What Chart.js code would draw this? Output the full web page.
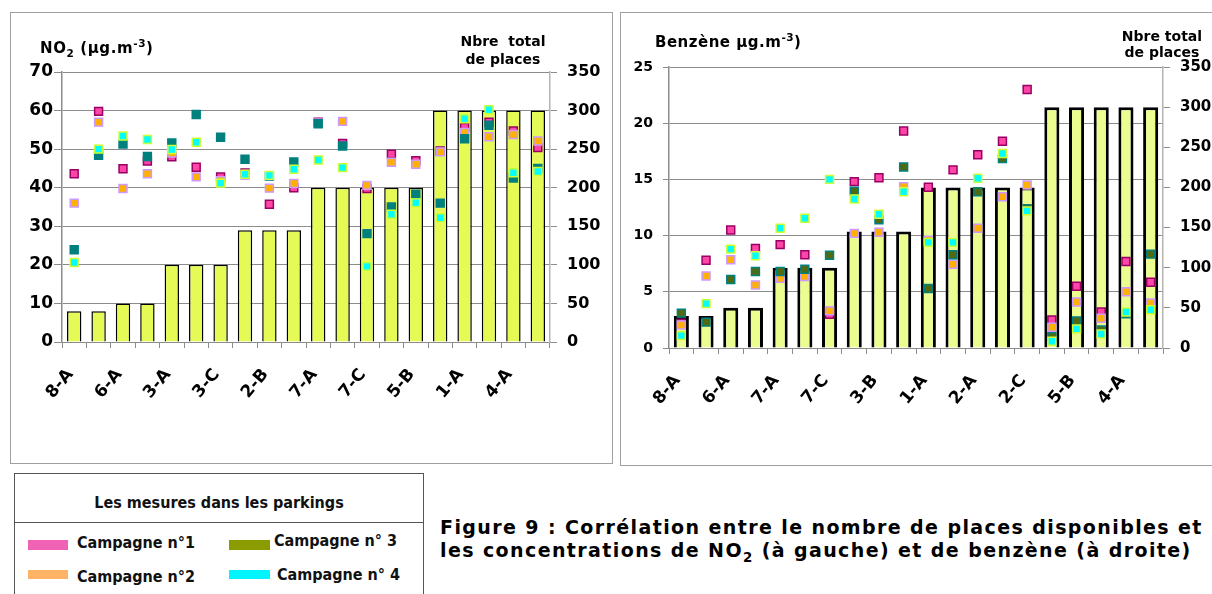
<!DOCTYPE html>
<html>
<head>
<meta charset="utf-8">
<script src="https://cdn.jsdelivr.net/npm/chart.js@4.4.1/dist/chart.umd.min.js"></script>
<style>
  html, body { margin: 0; padding: 0; background: #fff; }
  #page { position: relative; width: 1212px; height: 594px; overflow: hidden; font-family: 'DejaVu Sans', sans-serif; }
  .panel { position: absolute; border: 1px solid #a0a0a0; }
  canvas { position: absolute; }
  .lbl { position: absolute; font-weight: bold; color: #000; white-space: nowrap; line-height: 1; }
  .lbl sub, .lbl sup { font-size: 70%; line-height: 0; }
  #legend { position: absolute; left: 14px; top: 473px; width: 408px; height: 140px; border: 1.5px solid #555; }
  #legend .head { height: 48px; border-bottom: 1px solid #555; }
  .leg { position: absolute; font-family: 'DejaVu Sans Condensed', 'DejaVu Sans', sans-serif; font-stretch: condensed; font-weight: bold; color: #111; white-space: nowrap; line-height: 1; font-size: 16px; }
  .sw { position: absolute; }
  #caption { position: absolute; left: 440px; top: 516px; font-weight: bold; font-size: 19px; letter-spacing: 1.4px; line-height: 23px; white-space: nowrap; color: #000; }
  #caption sub { font-size: 70%; line-height: 0; }
</style>
</head>
<body>
<div id="page">
  <div class="panel" style="left:10px;top:12px;width:601px;height:450px;"></div>
  <div class="panel" style="left:620px;top:12px;width:620px;height:452px;"></div>

  <canvas id="no2Chart" width="602" height="453" style="left:10px;top:10px;"></canvas>
  <canvas id="bzChart" width="592" height="456" style="left:620px;top:10px;"></canvas>

  <div class="lbl" style="left:40px;top:41px;font-size:15px;letter-spacing:0.6px;">NO<sub>2</sub> (µg.m<sup>-3</sup>)</div>
  <div class="lbl" style="left:443px;top:32px;width:120px;text-align:center;font-size:14px;line-height:18px;">Nbre&nbsp; total<br>de places</div>
  <div class="lbl" style="left:655px;top:35px;font-size:15px;letter-spacing:0.5px;">Benzène µg.m<sup>-3</sup>)</div>
  <div class="lbl" style="left:1112px;top:28px;width:100px;text-align:center;font-size:14px;line-height:16px;">Nbre total<br>de places</div>

  <div id="legend"><div class="head"></div></div>
  <div class="leg" style="left:14px;top:495px;width:410px;text-align:center;font-weight:600;">Les mesures dans les parkings</div>
  <div class="sw" style="left:28px;top:540px;width:40px;height:10px;background:#f062b4;"></div>
  <div class="leg" style="left:77px;top:535px;">Campagne n°1</div>
  <div class="sw" style="left:229px;top:540px;width:41px;height:10px;background:#8a9c00;"></div>
  <div class="leg" style="left:274px;top:533px;">Campagne n° 3</div>
  <div class="sw" style="left:28px;top:570px;width:40px;height:9px;background:#ffb366;"></div>
  <div class="leg" style="left:77px;top:569px;">Campagne n°2</div>
  <div class="sw" style="left:229px;top:570px;width:41px;height:9px;background:#00f5ff;"></div>
  <div class="leg" style="left:277px;top:567px;">Campagne n° 4</div>

  <div id="caption">Figure 9 : Corrélation entre le nombre de places disponibles et<br>les concentrations de NO<sub>2</sub> (à gauche) et de benzène (à droite)</div>
</div>

<script>
// ---- NO2 (left chart) ----
const no2Labels = ['8-A', '', '6-A', '', '3-A', '', '3-C', '', '2-B', '', '7-A', '', '7-C', '', '5-B', '', '1-A', '', '4-A', ''];
const no2Places = [40, 40, 50, 50, 100, 100, 100, 145, 145, 145, 200, 200, 200, 200, 200, 300, 300, 300, 300, 300];
const no2Camp1 = [43.6, 59.8, 44.9, 46.9, 48.0, 45.3, 42.8, 43.8, 35.7, 40.0, 57.0, 51.5, 39.8, 48.7, 47.0, 49.5, 55.6, 57.0, 54.7, 50.4];
const no2Camp2 = [36.0, 57.0, 39.8, 43.6, 49.0, 42.8, 41.8, 43.2, 39.9, 41.1, 56.8, 57.2, 40.6, 46.6, 46.1, 49.3, 54.3, 53.2, 53.8, 52.1];
const no2Camp3 = [23.9, 48.4, 51.3, 48.1, 51.6, 59.0, 53.1, 47.4, 43.0, 46.7, 56.6, 50.8, 28.1, 35.0, 38.3, 36.0, 52.7, 56.2, 42.5, 45.0];
const no2Camp4 = [20.6, 50.0, 53.4, 52.5, 49.9, 51.8, 41.2, 43.5, 43.2, 44.8, 47.2, 45.2, 19.6, 33.1, 36.1, 32.2, 57.9, 60.2, 43.9, 44.2];

// ---- Benzene (right chart) ----
const bzLabels = ['8-A', '', '6-A', '', '7-A', '', '7-C', '', '3-B', '', '1-A', '', '2-A', '', '2-C', '', '5-B', '', '4-A', ''];
const bzPlaces = [40, 40, 50, 50, 100, 100, 100, 145, 145, 145, 200, 200, 200, 200, 200, 300, 300, 300, 300, 300];
const bzCamp1 = [2.2, 7.8, 10.5, 8.85, 9.2, 8.3, 3.0, 14.8, 15.15, 19.3, 14.3, 15.85, 17.2, 18.4, 23.0, 2.5, 5.5, 3.2, 7.7, 5.85];
const bzCamp2 = [2.05, 6.4, 7.85, 5.6, 6.2, 6.35, 3.3, 10.2, 10.3, 14.35, 9.6, 7.45, 10.65, 13.45, 14.5, 1.85, 4.1, 2.65, 5.0, 4.0];
const bzCamp3 = [3.1, 2.3, 6.1, 6.8, 6.8, 7.0, 8.25, 13.95, 11.4, 16.1, 5.3, 8.3, 13.9, 16.85, 12.4, 1.0, 2.4, 1.6, 3.05, 8.35];
const bzCamp4 = [1.1, 3.95, 8.8, 8.2, 10.65, 11.55, 15.0, 13.25, 11.9, 13.9, 9.4, 9.4, 15.1, 17.3, 12.2, 0.6, 1.7, 1.25, 3.2, 3.4];

const GRID = '#8c8c8c';
Chart.defaults.font.family = "'DejaVu Sans', sans-serif";
Chart.defaults.color = '#000';

function pointSet(label, data, fill, border, order) {
  return {
    type: 'line', label, data, order,
    showLine: false,
    pointStyle: 'rect', pointRadius: 5.6, pointHoverRadius: 5.6,
    pointBackgroundColor: fill, pointBorderColor: border, pointBorderWidth: 1.5,
    backgroundColor: fill, borderColor: border,
    yAxisID: 'y'
  };
}

function makeChart(id, cfg) {
  return new Chart(document.getElementById(id), {
    type: 'bar',
    data: {
      labels: cfg.labels,
      datasets: [
        pointSet('Campagne n°1', cfg.c1, '#ff45a6', '#990066', 4),
        pointSet('Campagne n°2', cfg.c2, '#ffb000', '#cc99ff', 3),
        pointSet('Campagne n°3', cfg.c3, cfg.c3Fill, '#008080', 2),
        pointSet('Campagne n°4', cfg.c4, '#00ffff', '#ccff33', 1),
        {
          type: 'bar', label: 'Nbre total de places', data: cfg.places, order: 10,
          backgroundColor: cfg.barFill, borderColor: '#000', borderWidth: cfg.barBorder,
          barPercentage: cfg.barPct, categoryPercentage: 1, yAxisID: 'y2'
        }
      ]
    },
    options: {
      responsive: false,
      animation: false,
      layout: { padding: { top: cfg.top, left: 0, right: 0, bottom: 0 } },
      plugins: { legend: { display: false }, tooltip: { enabled: false } },
      scales: {
        x: {
          grid: { offset: true, drawOnChartArea: false, tickLength: 6, color: GRID },
          border: { color: GRID },
          ticks: { autoSkip: false, minRotation: 50, maxRotation: 50, padding: 17, labelOffset: -4,
                   font: { size: 17, weight: 'bold' } },
          afterFit: s => { s.height = cfg.xH; }
        },
        y: {
          position: 'left', min: 0, max: cfg.yMax,
          ticks: { stepSize: cfg.yStep, padding: cfg.yPad, font: { size: cfg.yFont, weight: 'bold' } },
          grid: { color: GRID, lineWidth: 1, tickLength: cfg.yTick },
          border: { color: GRID, width: 1.5 },
          afterFit: s => { s.width = cfg.yW; }
        },
        y2: {
          position: 'right', min: 0, max: 350,
          ticks: { stepSize: 50, padding: 10, font: { size: cfg.y2Font, weight: 'bold' } },
          grid: { drawOnChartArea: false, color: GRID, tickLength: 7 },
          border: { color: '#b4b4b4', width: 1.5 },
          afterFit: s => { s.width = cfg.y2W; }
        }
      }
    }
  });
}

makeChart('no2Chart', {
  labels: no2Labels, places: no2Places,
  c1: no2Camp1, c2: no2Camp2, c3: no2Camp3, c4: no2Camp4, c3Fill: '#00807a',
  barFill: '#e6fa55', barBorder: 1.5, barPct: 0.59,
  yMax: 70, yStep: 10, yFont: 17, yPad: 1, yTick: 8, y2Font: 16,
  top: 62, xH: 121, yW: 52, y2W: 62
});

makeChart('bzChart', {
  labels: bzLabels, places: bzPlaces,
  c1: bzCamp1, c2: bzCamp2, c3: bzCamp3, c4: bzCamp4, c3Fill: '#4f6a10',
  barFill: '#ebfc90', barBorder: 3, barPct: 0.61,
  yMax: 25, yStep: 5, yFont: 14, yPad: 10, yTick: 6, y2Font: 15,
  top: 57, xH: 118, yW: 49, y2W: 49
});
</script>
</body>
</html>
